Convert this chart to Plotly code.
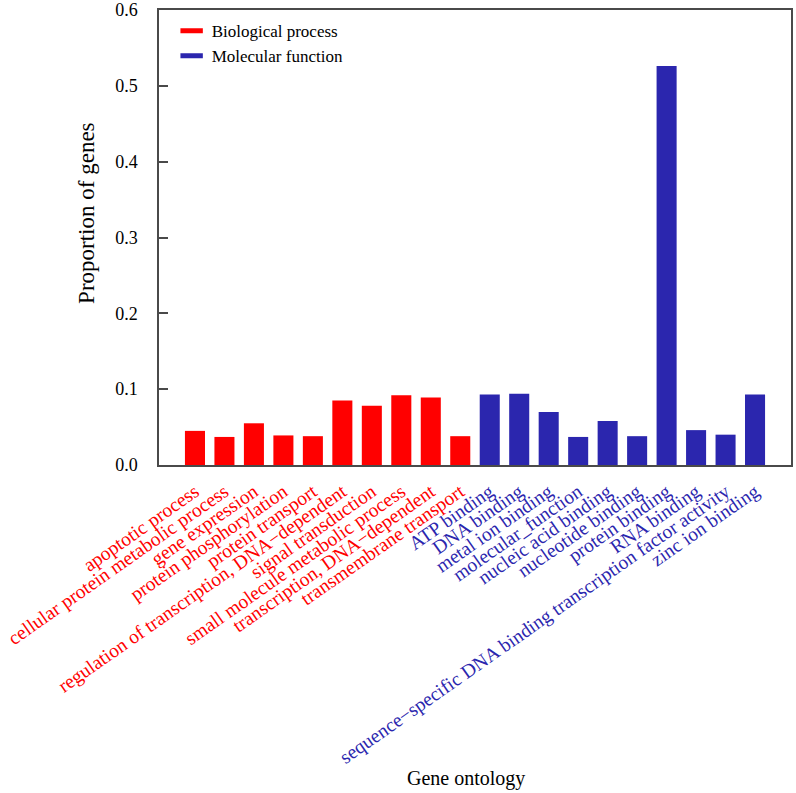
import plotly.graph_objects as go

bp_terms = [
    "apoptotic process",
    "cellular protein metabolic process",
    "gene expression",
    "protein phosphorylation",
    "protein transport",
    "regulation of transcription, DNA\u2212dependent",
    "signal transduction",
    "small molecule metabolic process",
    "transcription, DNA\u2212dependent",
    "transmembrane transport",
]
bp_values = [0.045, 0.037, 0.055, 0.039, 0.038, 0.085, 0.078, 0.092, 0.089, 0.038]

mf_terms = [
    "ATP binding",
    "DNA binding",
    "metal ion binding",
    "molecular_function",
    "nucleic acid binding",
    "nucleotide binding",
    "protein binding",
    "RNA binding",
    "sequence\u2212specific DNA binding transcription factor activity",
    "zinc ion binding",
]
mf_values = [0.093, 0.094, 0.070, 0.037, 0.058, 0.038, 0.526, 0.046, 0.040, 0.093]

y_ticks = [0.0, 0.1, 0.2, 0.3, 0.4, 0.5, 0.6]

RED = "#FF0000"
BLUE = "#2B26AE"
FONT = "Liberation Serif"
FRAME = "#4A4A4A"

all_terms = bp_terms + mf_terms
tick_text = [f"<span style='color:{RED}'>{t}</span>" for t in bp_terms] + \
            [f"<span style='color:{BLUE}'>{t}</span>" for t in mf_terms]

fig = go.Figure()
fig.add_trace(go.Bar(x=bp_terms, y=bp_values, name="Biological process",
                     legendgroup="bp", showlegend=False,
                     marker=dict(color=RED, line=dict(width=0))))
fig.add_trace(go.Bar(x=mf_terms, y=mf_values, name="Molecular function",
                     legendgroup="mf", showlegend=False,
                     marker=dict(color=BLUE, line=dict(width=0))))
# legend-only entries with wide, flat swatches like the original key
for name, color, grp in [("Biological process", RED, "bp"),
                         ("Molecular function", BLUE, "mf")]:
    fig.add_trace(go.Scatter(x=[None], y=[None], mode="markers", name=name,
                             legendgroup=grp, hoverinfo="skip",
                             marker=dict(symbol="line-ew", size=16, color=color,
                                         line=dict(width=6, color=color))))

fig.update_layout(
    width=796, height=793,
    margin=dict(l=159, r=5, t=10, b=328, autoexpand=False),
    plot_bgcolor="white", paper_bgcolor="white",
    barmode="overlay", bargap=0.32,
    font=dict(family=FONT, size=18, color="black"),
    showlegend=True,
    legend=dict(x=0.02, y=0.993, xanchor="left", yanchor="top",
                bgcolor="rgba(0,0,0,0)", font=dict(size=17, family=FONT),
                tracegroupgap=0),
)

fig.update_xaxes(
    type="category", categoryorder="array", categoryarray=all_terms,
    range=[-1.22, 20.22],
    tickmode="array", tickvals=all_terms, ticktext=tick_text,
    tickangle=-35, tickfont=dict(size=19.5, family=FONT),
    ticklabelstandoff=6,
    showline=True, linecolor=FRAME, linewidth=1.5, mirror=True,
    ticks="", showgrid=False, zeroline=False, automargin=False,
)
fig.update_yaxes(
    range=[0, 0.6], tickmode="array", tickvals=y_ticks,
    ticktext=[f"{v:.1f}" for v in y_ticks],
    tickfont=dict(size=18, family=FONT),
    ticks="inside", ticklen=9, tickwidth=1.5, tickcolor=FRAME,
    ticklabelstandoff=16,
    showline=True, linecolor=FRAME, linewidth=1.5, mirror=True,
    showgrid=False, zeroline=False, automargin=False,
)

fig.add_annotation(text="Gene ontology", xref="paper", yref="paper",
                   x=0.485, y=-0.688, xanchor="center", yanchor="middle",
                   showarrow=False, font=dict(size=20, family=FONT))
fig.add_annotation(text="Proportion of genes", xref="paper", yref="paper",
                   x=-0.114, y=0.554, xanchor="center", yanchor="middle",
                   textangle=-90, showarrow=False, font=dict(size=23, family=FONT))

# remove the page's default 8px body margin so the figure fills the window
fig.write_html("out.html", config={"displayModeBar": False},
               post_script="document.body.style.margin='0px';")
